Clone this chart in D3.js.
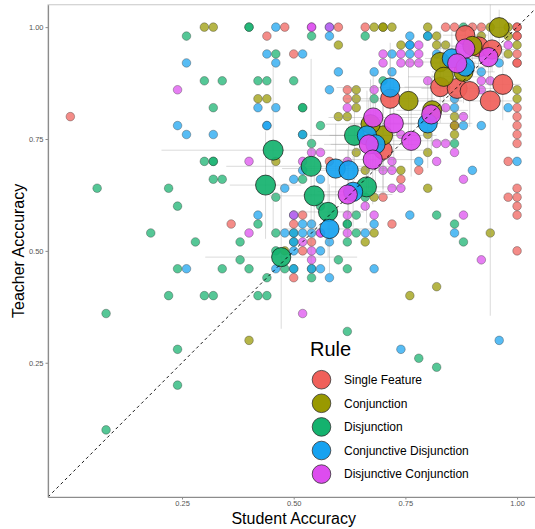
<!DOCTYPE html>
<html lang="en">
<head>
<meta charset="UTF-8">
<title>Student vs Teacher Accuracy</title>
<script src="https://d3js.org/d3.v7.min.js"></script>
<style>
    body { margin: 0; background: #fff; }
    svg { display: block; font-family: "Liberation Sans", Arial, sans-serif; }
</style>
</head>
<body>
<svg id="chart" width="535" height="529"></svg>
<script>
// rule categories and colours
const rules = ["Single Feature", "Conjunction", "Disjunction", "Conjunctive Disjunction", "Disjunctive Conjunction"];
const ruleColors = ["#F0605A", "#999900", "#14B26E", "#16A2F0", "#DD4CEF"];
const tickValues = [0.25, 0.50, 0.75, 1.00];

// individual learners: [student accuracy, teacher accuracy]
const singleFeaturePts = [
    [0.00,0.80],[0.44,0.98],[0.36,0.56],[0.50,0.44],[0.48,1.00],[0.60,1.00],[0.66,1.00],[0.50,0.94],[0.62,0.86],[0.62,0.84],[0.58,0.70],
    [0.84,1.00],[0.86,1.00],[0.90,1.00],[0.92,1.00],[1.00,1.00],[1.00,1.00],[1.00,0.98],[1.00,0.98],[1.00,0.94],[1.00,0.92],[1.00,0.92],
    [1.00,0.82],[1.00,0.80],[0.86,0.78],[1.00,0.78],[1.00,0.76],[1.00,0.74],[0.98,0.70],
    [0.52,0.58],[0.50,0.56],[0.70,0.62],[0.54,0.52],[0.52,0.50],
    [0.78,0.68],[0.74,0.66],[1.00,0.64],[0.98,0.62],[1.00,0.62],[1.00,0.60],[1.00,0.58],[0.72,0.56],[1.00,0.50]
];
const conjunctionPts = [
    [0.30,1.00],[0.32,1.00],[0.42,0.84],[0.44,0.84],[0.40,0.30],
    [0.68,1.00],[0.70,1.00],[0.70,1.00],[0.72,1.00],[0.60,0.96],[0.64,0.86],[0.64,0.84],[0.64,0.82],[0.60,0.80],[0.62,0.80],[0.46,0.70],[0.64,0.72],
    [0.80,1.00],[0.94,1.00],[0.98,1.00],[0.82,0.98],[0.92,0.98],[0.98,0.98],[0.74,0.96],[0.82,0.96],[0.84,0.96],[1.00,0.96],[0.98,0.94],
    [1.00,0.86],[1.00,0.84],[0.86,0.80],[0.86,0.78],[0.80,0.76],[0.86,0.76],[0.80,0.72],
    [0.66,0.68],[0.68,0.62],[0.68,0.54],[0.66,0.52],[0.48,0.50],
    [0.74,0.68],[0.80,0.64],[0.94,0.54],[0.82,0.42],[0.76,0.40]
];
const disjunctionPts = [
    [0.06,0.64],[0.40,1.00],[0.40,1.00],[0.26,0.98],[0.30,0.88],[0.34,0.88],[0.42,0.88],[0.44,0.88],[0.32,0.82],[0.30,0.70],[0.32,0.70],
    [0.32,0.70],[0.32,0.66],[0.34,0.66],[0.22,0.64],[0.24,0.60],[0.42,0.56],[0.18,0.54],[0.28,0.52],[0.38,0.52],[0.38,0.48],
    [0.24,0.46],[0.34,0.46],[0.40,0.46],[0.48,0.46],[0.50,0.46],[0.44,0.44],[0.22,0.40],[0.30,0.40],[0.32,0.40],[0.42,0.40],[0.44,0.40],
    [0.08,0.36],[0.24,0.28],[0.24,0.20],[0.08,0.10],
    [0.54,0.98],[0.66,0.98],[0.46,0.94],[0.50,0.88],[0.70,0.88],[0.68,0.84],[0.52,0.82],[0.52,0.82],[0.56,0.78],[0.52,0.76],[0.54,0.74],
    [0.88,1.00],[0.80,0.98],[0.86,0.74],
    [0.52,0.66],[0.46,0.62],[0.66,0.62],[0.56,0.60],[0.64,0.58],[0.62,0.56],[0.62,0.56],[0.46,0.54],[0.50,0.54],[0.64,0.54],[0.50,0.52],
    [0.62,0.52],[0.46,0.50],[0.60,0.48],[0.54,0.46],[0.62,0.46],[0.54,0.44],[0.62,0.32],
    [0.82,0.58],[0.86,0.56],[0.88,0.52],[0.78,0.26],[0.82,0.24]
];
const conjDisjPts = [
    [0.44,0.94],[0.26,0.92],[0.42,0.82],[0.24,0.78],[0.26,0.76],[0.32,0.76],[0.44,0.78],[0.44,0.78],[0.42,0.58],
    [0.26,0.46],[0.46,0.46],
    [0.46,1.00],[0.58,1.00],[0.58,0.98],[0.52,0.94],[0.46,0.92],[0.60,0.90],[0.68,0.90],[0.58,0.86],[0.46,0.82],[0.52,0.76],
    [0.76,0.98],[0.80,0.98],[0.76,0.96],[0.76,0.96],[0.72,0.94],[0.76,0.94],[0.82,0.94],[0.72,0.90],[0.92,0.90],[0.96,0.92],
    [0.86,0.84],[0.86,0.82],[0.98,0.82],[0.88,0.78],[0.92,0.78],[0.78,0.70],[1.00,0.70],
    [0.52,0.68],[0.50,0.66],[0.56,0.66],[0.48,0.64],[0.52,0.56],[0.54,0.56],[0.68,0.56],[0.48,0.54],[0.50,0.54],[0.52,0.54],[0.54,0.54],
    [0.66,0.54],[0.50,0.52],[0.58,0.52],[0.50,0.50],[0.56,0.50],[0.50,0.46],[0.54,0.46],[0.56,0.46],[0.68,0.46],[0.58,0.44],[0.50,0.58],
    [0.90,0.68],[0.76,0.58],[0.86,0.54],[0.74,0.28],[0.96,0.30]
];
const disjConjPts = [
    [0.24,0.86],[0.40,0.70],[0.40,0.54],
    [0.54,1.00],[0.54,1.00],[0.58,1.00],[0.70,0.94],[0.70,0.92],[0.68,0.86],[0.62,0.82],[0.54,0.72],[0.56,0.72],[0.52,0.70],[0.62,0.70],
    [0.78,0.96],[0.98,0.96],[0.74,0.94],[0.78,0.94],[0.74,0.92],[0.76,0.92],[0.78,0.92],[0.80,0.88],[0.92,0.88],[0.94,0.88],[0.92,0.86],
    [0.84,0.82],[0.88,0.80],[0.74,0.76],[0.82,0.74],[0.84,0.74],[0.86,0.72],[0.72,0.70],[0.82,0.70],
    [0.70,0.68],[0.50,0.58],[0.62,0.58],[0.68,0.58],[0.66,0.60],[0.56,0.54],[0.56,0.54],[0.62,0.54],[0.52,0.52],[0.54,0.50],[0.54,0.48],[0.52,0.36],
    [0.72,0.68],[0.88,0.66],[0.72,0.64],[0.74,0.64],[0.88,0.58],[0.92,0.48]
];

// condition means: [student, teacher, n, student spread, teacher spread]
const singleFeatureMeans = [
    [0.884,0.982,12,0.05,0.03],[0.914,0.956,13,0.06,0.05],[0.944,0.950,12,0.05,0.05],[0.968,0.872,13,0.04,0.08],
    [0.828,0.866,12,0.08,0.08],[0.866,0.863,13,0.08,0.10],[0.894,0.857,12,0.07,0.08],[0.940,0.835,13,0.05,0.48],
    [0.716,0.840,12,0.10,0.10],[0.700,0.725,11,0.10,0.10]
];
const conjunctionMeans = [
    [0.960,0.999,13,0.04,0.04],[0.900,0.958,12,0.06,0.05],[0.828,0.922,12,0.08,0.07],[0.836,0.889,12,0.08,0.08],
    [0.880,0.900,12,0.07,0.07],[0.757,0.835,12,0.12,0.10],[0.810,0.814,12,0.08,0.08],[0.700,0.758,12,0.12,0.12],
    [0.672,0.783,12,0.10,0.10]
];
const disjunctionMeans = [
    [0.454,0.725,13,0.25,0.19],[0.437,0.647,13,0.08,0.12],[0.472,0.486,12,0.17,0.16],[0.539,0.689,13,0.19,0.24],
    [0.546,0.623,13,0.10,0.10],[0.577,0.587,12,0.08,0.10],[0.636,0.758,13,0.10,0.10],[0.663,0.643,13,0.08,0.08]
];
const conjDisjMeans = [
    [0.854,0.930,12,0.06,0.06],[0.884,0.911,11,0.06,0.06],[0.716,0.865,12,0.12,0.10],[0.800,0.785,12,0.10,0.10],
    [0.664,0.758,12,0.12,0.10],[0.683,0.738,12,0.10,0.10],[0.594,0.684,12,0.12,0.10],[0.623,0.680,12,0.10,0.10],
    [0.633,0.632,12,0.08,0.08],[0.580,0.549,12,0.10,0.10]
];
const disjConjMeans = [
    [0.884,0.952,12,0.06,0.05],[0.936,0.933,12,0.05,0.06],[0.866,0.919,12,0.06,0.06],[0.808,0.805,12,0.08,0.08],
    [0.678,0.798,12,0.10,0.10],[0.724,0.785,12,0.10,0.10],[0.763,0.746,12,0.10,0.08],[0.668,0.738,12,0.10,0.10],
    [0.677,0.704,12,0.10,0.10],[0.621,0.626,12,0.10,0.10]
];

const ptsByRule = [singleFeaturePts, conjunctionPts, disjunctionPts, conjDisjPts, disjConjPts];
const meansByRule = [singleFeatureMeans, conjunctionMeans, disjunctionMeans, conjDisjMeans, disjConjMeans];

const points = [];
ptsByRule.forEach((arr, i) => arr.forEach(d => points.push({rule: i, x: d[0], y: d[1]})));
const means = [];
meansByRule.forEach((arr, i) => arr.forEach(d => means.push({rule: i, x: d[0], y: d[1], n: d[2], ex: d[3], ey: d[4]})));

const svg = d3.select("#chart");
const panelLeft = 48, panelTop = 4.75, panelBottom = 497, panelRight = 539.4;

const x = d3.scaleLinear().domain([-0.05, 1.05]).range([panelLeft, panelRight]);
const y = d3.scaleLinear().domain([-0.05, 1.05]).range([panelBottom, panelTop]);
const size = d3.scaleSqrt().domain([0, 13]).range([0, 10]);
const color = d3.scaleOrdinal().domain(d3.range(rules.length)).range(ruleColors);

svg.append("defs").append("clipPath").attr("id", "panel")
    .append("rect").attr("x", panelLeft).attr("y", panelTop)
    .attr("width", panelRight - panelLeft).attr("height", panelBottom - panelTop);

// panel border (top/right lighter)
svg.append("rect")
    .attr("x", panelLeft).attr("y", panelTop)
    .attr("width", panelRight - panelLeft).attr("height", panelBottom - panelTop)
    .attr("fill", "none").attr("stroke", "#c8c8c8").attr("stroke-width", 1);

const plot = svg.append("g").attr("clip-path", "url(#panel)");

// individual points
plot.append("g").selectAll("circle")
    .data(points)
    .enter().append("circle")
    .attr("cx", d => x(d.x))
    .attr("cy", d => y(d.y))
    .attr("r", 4.3)
    .attr("fill", d => color(d.rule))
    .attr("fill-opacity", 0.72)
    .attr("stroke", "#333")
    .attr("stroke-opacity", 0.6)
    .attr("stroke-width", 0.6);

// error bars
const bars = plot.append("g")
    .attr("stroke", "#999")
    .attr("stroke-opacity", 0.35)
    .attr("stroke-width", 1);
bars.selectAll("line.h")
    .data(means)
    .enter().append("line")
    .attr("class", "h")
    .attr("x1", d => x(d.x - d.ex)).attr("x2", d => x(d.x + d.ex))
    .attr("y1", d => y(d.y)).attr("y2", d => y(d.y));
bars.selectAll("line.v")
    .data(means)
    .enter().append("line")
    .attr("class", "v")
    .attr("x1", d => x(d.x)).attr("x2", d => x(d.x))
    .attr("y1", d => y(d.y - d.ey)).attr("y2", d => y(d.y + d.ey));

// condition means
plot.append("g").selectAll("circle")
    .data(means)
    .enter().append("circle")
    .attr("cx", d => x(d.x))
    .attr("cy", d => y(d.y))
    .attr("r", d => size(d.n))
    .attr("fill", d => color(d.rule))
    .attr("fill-opacity", 0.92)
    .attr("stroke", "#111")
    .attr("stroke-width", 0.7);

// identity line
plot.append("line")
    .attr("x1", x(-0.05)).attr("y1", y(-0.05))
    .attr("x2", x(1.05)).attr("y2", y(1.05))
    .attr("stroke", "#000")
    .attr("stroke-width", 0.9)
    .attr("stroke-dasharray", "3,3");

// axes
const yAxis = svg.append("g")
    .attr("transform", `translate(${panelLeft},0)`)
    .call(d3.axisLeft(y).tickValues(tickValues).tickFormat(d3.format(".2f")).tickSize(2.5).tickPadding(2).tickSizeOuter(0));
const xAxis = svg.append("g")
    .attr("transform", `translate(0,${panelBottom})`)
    .call(d3.axisBottom(x).tickValues(tickValues).tickFormat(d3.format(".2f")).tickSize(2.5).tickPadding(1).tickSizeOuter(0));
[xAxis, yAxis].forEach(a => {
    a.select(".domain").attr("stroke", "#8c8c8c").attr("stroke-width", 1.2);
    a.selectAll(".tick line").attr("stroke", "#8c8c8c");
    a.selectAll(".tick text").attr("fill", "#555").attr("font-size", 7.5)
        .attr("font-family", "Liberation Sans, Arial, sans-serif");
});

svg.append("text")
    .attr("x", (panelLeft + panelRight) / 2).attr("y", 524)
    .attr("text-anchor", "middle")
    .attr("font-size", 16)
    .text("Student Accuracy");

svg.append("text")
    .attr("transform", `translate(24,${(panelTop + panelBottom) / 2}) rotate(-90)`)
    .attr("text-anchor", "middle")
    .attr("font-size", 16)
    .text("Teacher Acccuracy");

// legend
const legend = svg.append("g");
legend.append("text")
    .attr("x", 310).attr("y", 356)
    .attr("font-size", 20)
    .text("Rule");
const keys = legend.selectAll("g.key")
    .data(rules)
    .enter().append("g")
    .attr("class", "key")
    .attr("transform", (d, i) => `translate(321.5,${379.7 + i * 23.6})`);
keys.append("circle")
    .attr("r", 9.3)
    .attr("fill", (d, i) => color(i))
    .attr("stroke", "#333")
    .attr("stroke-width", 0.8);
keys.append("text")
    .attr("x", 22.5).attr("dy", "0.36em")
    .attr("font-size", 12)
    .text(d => d);
</script>
</body>
</html>
